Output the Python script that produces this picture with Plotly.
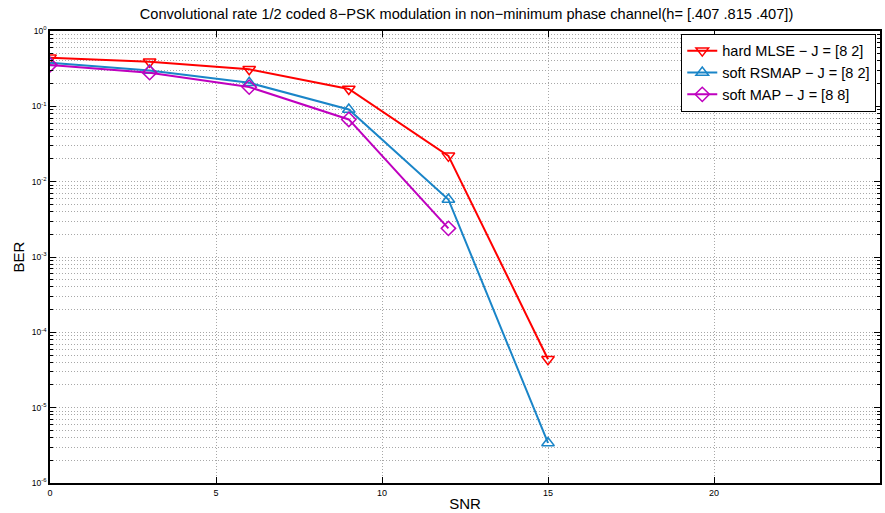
import plotly.graph_objects as go

snr_hard = [0, 3, 6, 9, 12, 15]
ber_hard = [0.44, 0.39, 0.31, 0.17, 0.022, 4.4e-5]

snr_rsmap = [0, 3, 6, 9, 12, 15]
ber_rsmap = [0.38, 0.30, 0.205, 0.091, 0.0058, 3.4e-6]

snr_map = [0, 3, 6, 9, 12]
ber_map = [0.355, 0.28, 0.18, 0.067, 0.0024]

x_ticks = [0, 5, 10, 15, 20, 25]
y_exps = [0, -1, -2, -3, -4, -5, -6]

FONT = "Liberation Sans, Arial, Helvetica, sans-serif"
GRID = "#a8a8a8"
GRID_DASH = "1px,2px"

fig = go.Figure()
series = [
    (snr_hard, ber_hard, "hard MLSE − J = [8 2]", "#ff0000", "triangle-down-open"),
    (snr_rsmap, ber_rsmap, "soft RSMAP − J = [8 2]", "#1a85c8", "triangle-up-open"),
    (snr_map, ber_map, "soft MAP − J = [8 8]", "#bf00bf", "diamond-open"),
]
for xs, ys, name, col, sym in series:
    fig.add_trace(go.Scatter(
        x=xs, y=ys, name=name, mode="lines+markers",
        line=dict(color=col, width=2),
        marker=dict(symbol=sym, size=11, color=col, line=dict(width=1.5, color=col)),
    ))

fig.update_layout(
    width=885, height=513,
    margin=dict(l=50, r=3, t=31, b=27),
    paper_bgcolor="white", plot_bgcolor="white",
    font=dict(family=FONT, color="black"),
    title=dict(
        text="Convolutional rate 1/2 coded 8−PSK modulation in non−minimum phase channel(h= [.407 .815 .407])",
        x=466.5 / 885, xanchor="center", y=1 - 14 / 513, yanchor="middle",
        font=dict(size=14.6, family=FONT),
    ),
    showlegend=True,
    legend=dict(
        x=0.9955, y=0.994, xanchor="right", yanchor="top",
        bgcolor="white", bordercolor="black", borderwidth=1,
        font=dict(size=14.5, family=FONT),
        tracegroupgap=0, itemwidth=30,
    ),
)

fig.update_xaxes(
    type="linear", range=[0, 25],
    tickvals=x_ticks, ticktext=[str(v) for v in x_ticks],
    tickfont=dict(size=9), ticks="inside", ticklen=6, tickcolor="black",
    showline=True, linecolor="black", linewidth=1.5, mirror="ticks",
    showgrid=True, gridcolor=GRID, griddash=GRID_DASH, gridwidth=1,
    zeroline=False,
    title=dict(text="SNR", font=dict(size=15), standoff=2),
)

fig.update_yaxes(
    type="log", range=[-6, 0],
    tickvals=[10 ** e for e in y_exps],
    ticktext=["10<sup>%d</sup>" % e for e in y_exps],
    tickfont=dict(size=8.5), ticks="inside", ticklen=6, tickcolor="black",
    showline=True, linecolor="black", linewidth=1.5, mirror="ticks",
    showgrid=True, gridcolor=GRID, griddash=GRID_DASH, gridwidth=1,
    minor=dict(ticks="inside", ticklen=3, tickcolor="black", dtick="D1",
               showgrid=True, gridcolor=GRID, griddash=GRID_DASH, gridwidth=1),
    zeroline=False,
    title=dict(text="BER", font=dict(size=15), standoff=4),
)

fig.write_html("out.html")
